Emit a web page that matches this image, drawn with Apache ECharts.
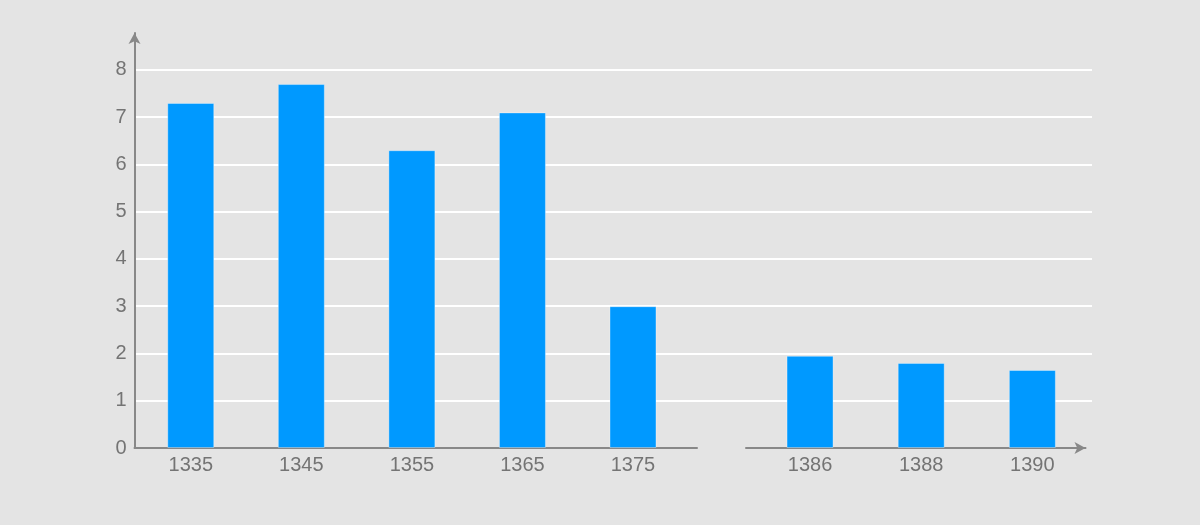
<!DOCTYPE html>
<html><head><meta charset="utf-8">
<script src="https://cdn.jsdelivr.net/npm/echarts@6/dist/echarts.min.js"></script>
<style>html,body{margin:0;padding:0;background:#e4e4e4}#c{width:1200px;height:525px}</style>
</head><body><div id="c"></div>
<script>
const categoriesA = ['1335', '1345', '1355', '1365', '1375'];
const valuesA = [7.3, 7.7, 6.3, 7.1, 3.0];
const categoriesB = ['1386', '1388', '1390'];
const valuesB = [1.95, 1.8, 1.65];

const FONT = '"Liberation Sans", Arial, sans-serif';
const LABEL = '#747474';
const AXIS = '#888888';
const YMAX = 8.78;

const chart = echarts.init(document.getElementById('c'), null, {renderer: 'canvas'});
chart.setOption({
  animation: false,
  backgroundColor: '#e4e4e4',
  grid: [
    {left: 134.5, right: 108, top: 33, bottom: 77},
    {left: 134.5, width: 562.5, top: 33, bottom: 77},
    {left: 746, width: 339.5, top: 33, bottom: 77}
  ],
  xAxis: [
    {gridIndex: 0, type: 'value', min: 0, max: 1, show: false},
    {
      gridIndex: 1, type: 'value', min: -0.509, max: 4.579,
      splitLine: {show: false}, axisTick: {show: false},
      axisLine: {show: true, onZero: false, lineStyle: {color: AXIS, width: 2}},
      axisLabel: {
        customValues: categoriesA.map((c, i) => i),
        formatter: v => categoriesA[Math.round(v)],
        color: LABEL, fontSize: 20, fontFamily: FONT, margin: 7
      }
    },
    {
      gridIndex: 2, type: 'value', min: -0.576, max: 2.478,
      splitLine: {show: false}, axisTick: {show: false},
      axisLine: {show: true, onZero: false, symbol: ['none', 'arrow'], symbolSize: [9, 11],
        lineStyle: {color: AXIS, width: 2}},
      axisLabel: {
        customValues: categoriesB.map((c, i) => i),
        formatter: v => categoriesB[Math.round(v)],
        color: LABEL, fontSize: 20, fontFamily: FONT, margin: 7
      }
    }
  ],
  yAxis: [
    {
      gridIndex: 0, type: 'value', min: 0, max: YMAX, interval: 1,
      axisLine: {show: true, onZero: false, symbol: ['none', 'arrow'], symbolSize: [9, 11],
        lineStyle: {color: AXIS, width: 2}},
      axisTick: {show: false},
      axisLabel: {color: LABEL, fontSize: 20, fontFamily: FONT, margin: 8, showMaxLabel: false},
      splitLine: {show: true, showMinLine: false, showMaxLine: false,
        lineStyle: {color: '#ffffff', width: 2}}
    },
    {gridIndex: 1, type: 'value', min: 0, max: YMAX, show: false},
    {gridIndex: 2, type: 'value', min: 0, max: YMAX, show: false}
  ],
  series: [
    {
      type: 'bar', xAxisIndex: 1, yAxisIndex: 1, barWidth: 47,
      itemStyle: {color: '#0099ff', borderColor: 'rgba(255,255,255,0.35)', borderWidth: 1},
      data: valuesA.map((v, i) => [i, v])
    },
    {
      type: 'bar', xAxisIndex: 2, yAxisIndex: 2, barWidth: 47,
      itemStyle: {color: '#0099ff', borderColor: 'rgba(255,255,255,0.35)', borderWidth: 1},
      data: valuesB.map((v, i) => [i, v])
    }
  ]
});
</script></body></html>
